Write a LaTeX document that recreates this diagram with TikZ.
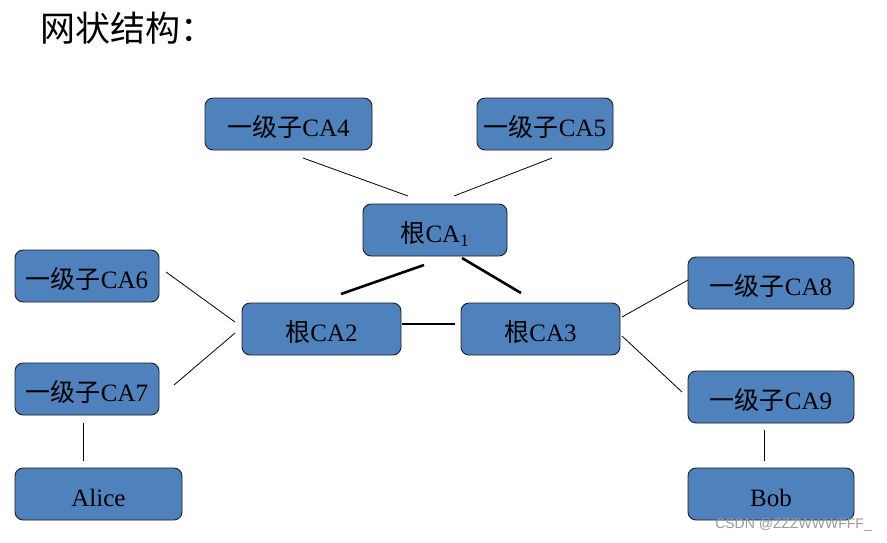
\documentclass[tikz,border=0pt]{standalone}
\usepackage{fontspec}
\setmainfont{Liberation Serif}
\newfontfamily\cjk{Noto Sans CJK SC}
\newfontfamily\wmfont{Liberation Sans}
\definecolor{boxblue}{HTML}{4F81BD}
\definecolor{boxline}{HTML}{1F1F1F}
\begin{document}
\begin{tikzpicture}[x=1pt,y=-1pt,
  box/.style={draw=boxline, fill=boxblue, rounded corners=8pt, line width=0.9pt,
    minimum height=52pt, inner sep=0pt, text=black, text height=25pt, text depth=0pt,
    font=\fontsize{25}{25}\selectfont},
  thinline/.style={line width=0.8pt, black},
  thickline/.style={line width=2.6pt, black}]
\path[use as bounding box] (0,0) rectangle (887,542);
\node[anchor=west, inner sep=0pt, font=\cjk\fontsize{35}{35}\selectfont] (title) at (40,28) {网状结构：};

\node[box, minimum width=167pt] (ca4) at (288.5,124) {{\cjk 一级子}CA4};
\node[box, minimum width=136pt] (ca5) at (545,124) {{\cjk 一级子}CA5};
\node[box, minimum width=144pt] (ca1) at (435,230) {{\cjk 根}CA\textsubscript{1}};
\node[box, minimum width=144pt] (ca6) at (87,276) {{\cjk 一级子}CA6};
\node[box, minimum width=159pt] (ca2) at (321.5,329) {{\cjk 根}CA2};
\node[box, minimum width=159pt] (ca3) at (540.5,329) {{\cjk 根}CA3};
\node[box, minimum width=166pt] (ca8) at (771,283) {{\cjk 一级子}CA8};
\node[box, minimum width=144pt] (ca7) at (87,389) {{\cjk 一级子}CA7};
\node[box, minimum width=166pt] (ca9) at (771,397) {{\cjk 一级子}CA9};
\node[box, minimum width=167pt] (alice) at (98.5,494) {Alice};
\node[box, minimum width=166pt] (bob) at (771,494) {Bob};

\coordinate (a1) at (303,158); \coordinate (b1) at (408,196);
\coordinate (a2) at (552,158); \coordinate (b2) at (454,196);
\coordinate (a3) at (424,265); \coordinate (b3) at (341,294);
\coordinate (a4) at (462,258); \coordinate (b4) at (521,293);
\coordinate (a5) at (402,324); \coordinate (b5) at (455,324);
\coordinate (a6) at (166,272); \coordinate (b6) at (235,322);
\coordinate (a7) at (174,385); \coordinate (b7) at (235,333);
\coordinate (a8) at (622,317); \coordinate (b8) at (688,280);
\coordinate (a9) at (622,336); \coordinate (b9) at (682,392);
\coordinate (a10) at (83,423); \coordinate (b10) at (83,461);
\coordinate (a11) at (764,430); \coordinate (b11) at (764,461);

\draw[thinline] (a1) -- (b1);
\draw[thinline] (a2) -- (b2);
\draw[thickline] (a3) -- (b3);
\draw[thickline] (a4) -- (b4);
\draw[thickline] (a5) -- (b5);
\draw[thinline] (a6) -- (b6);
\draw[thinline] (a7) -- (b7);
\draw[thinline] (a8) -- (b8);
\draw[thinline] (a9) -- (b9);
\draw[thinline] (a10) -- (b10);
\draw[thinline] (a11) -- (b11);

\node[anchor=east, inner sep=0pt, text=black!40, font=\wmfont\fontsize{14}{14}\selectfont] (wm) at (872,525) {CSDN @ZZZWWWFFF\_};
\end{tikzpicture}
\end{document}
